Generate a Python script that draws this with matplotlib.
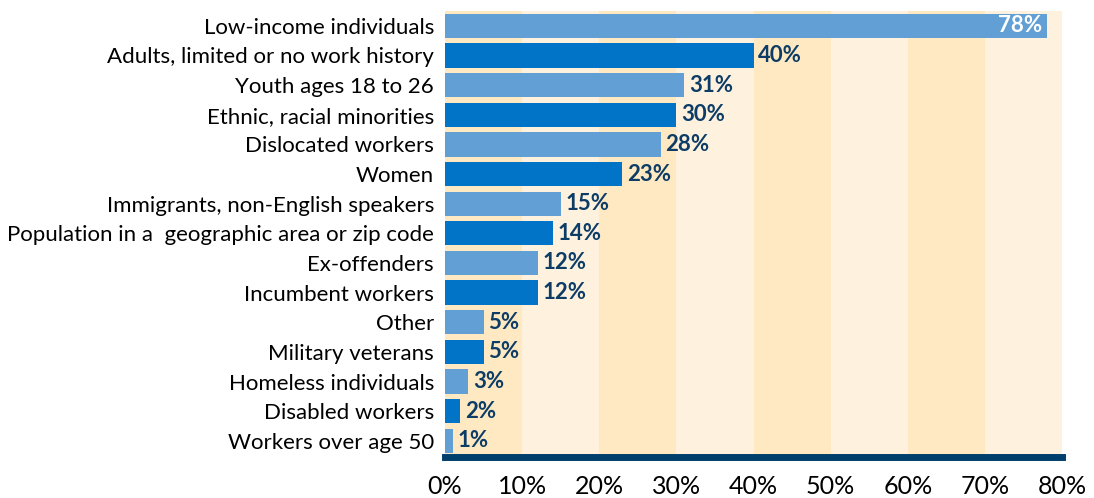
import matplotlib.pyplot as plt

categories = ["Low-income individuals", "Adults, limited or no work history",
              "Youth ages 18 to 26", "Ethnic, racial minorities", "Dislocated workers",
              "Women", "Immigrants, non-English speakers",
              "Population in a  geographic area or zip code", "Ex-offenders",
              "Incumbent workers", "Other", "Military veterans", "Homeless individuals",
              "Disabled workers", "Workers over age 50"]
values = [78, 40, 31, 30, 28, 23, 15, 14, 12, 12, 5, 5, 3, 2, 1]
ticks = [0, 10, 20, 30, 40, 50, 60, 70, 80]

plt.rcParams['font.family'] = ['Lato', 'DejaVu Sans']

fig = plt.figure(figsize=(10.94, 4.98), dpi=100)
ax = fig.add_axes([0.4068, 0.082, 0.564, 0.896])

# alternating background bands
for i in range(8):
    ax.axvspan(i * 10, (i + 1) * 10, color="#fee9c2" if i % 2 == 0 else "#fef2df", zorder=0, lw=0)

light, dark = "#619fd5", "#0274c8"
ypos = list(range(len(categories)))
colors = [light if i % 2 == 0 else dark for i in ypos]
ax.barh(ypos, values, height=0.82, color=colors, zorder=2)

for y, v in zip(ypos, values):
    if v > 70:
        ax.text(v - 0.6, y, f"{v}%", ha="right", va="center", color="white",
                fontsize=16, fontweight="bold", zorder=3)
    else:
        ax.text(v + 0.6, y, f"{v}%", ha="left", va="center", color="#0d3d66",
                fontsize=16, fontweight="bold", zorder=3)

ax.set_yticks(ypos)
ax.set_yticklabels(categories, fontsize=16)
ax.set_ylim(len(categories) - 0.45, -0.5)
ax.set_xlim(0, 80)
ax.set_xticks(ticks)
ax.set_xticklabels([f"{t}%" for t in ticks], fontsize=18)
ax.tick_params(axis="both", length=0)
ax.tick_params(axis="x", pad=13)
ax.tick_params(axis="y", pad=8)

for s in ["top", "right", "left"]:
    ax.spines[s].set_visible(False)
ax.spines["bottom"].set_color("#003f6b")
ax.spines["bottom"].set_linewidth(5)

fig.savefig("out.png", dpi=100)
